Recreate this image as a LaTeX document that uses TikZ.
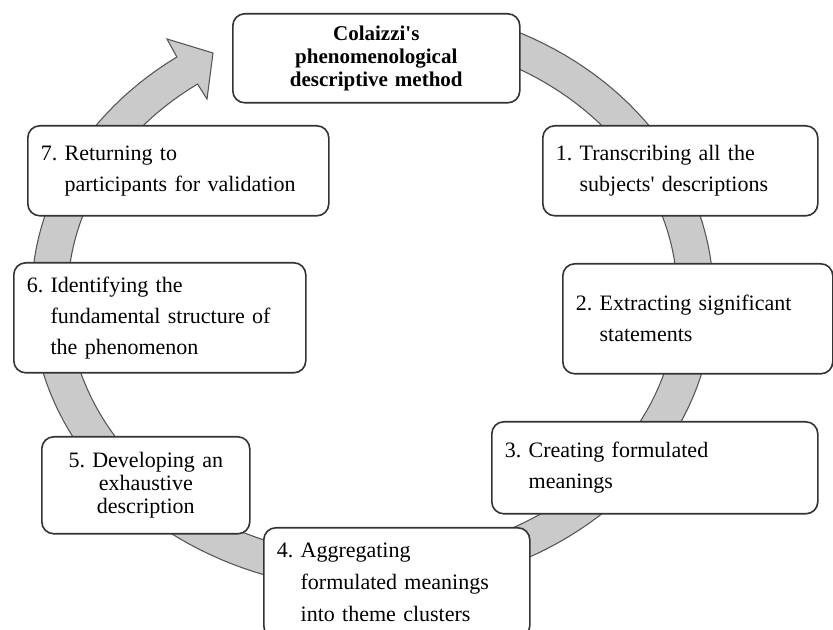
\documentclass[tikz,border=0pt]{standalone}
\usepackage{fontspec}
\setmainfont{Liberation Serif}
\frenchspacing
\definecolor{ringfill}{HTML}{CACACA}
\definecolor{ringline}{HTML}{555555}
\definecolor{boxline}{HTML}{333333}
\newcommand{\apos}{\textquotesingle}
\begin{document}
\begin{tikzpicture}[x=0.75pt,y=-0.75pt,
  stepbox/.style={draw=boxline, line width=1.2pt, fill=white, rounded corners=9pt,
    anchor=north west, inner xsep=9.75pt, inner ysep=0pt, align=left,
    font=\fontsize{16.5pt}{23.25pt}\selectfont},
  ringstyle/.style={fill=ringfill, draw=ringline, line width=0.8pt}]
\clip (0,0) rectangle (833,630);
\fill[white] (0,0) rectangle (833,630);

% circular arrow running clockwise round the steps
\filldraw[ringstyle]
  plot[variable=\t, domain=70:-235, samples=150] ({372.5+341*cos(\t)},{297-293*sin(\t)})
  -- (167,39) -- (213,53) -- (207,99)
  -- plot[variable=\t, domain=-235:70, samples=150] ({372.5+305*cos(\t)},{297-260*sin(\t)})
  -- cycle;

% title
\node[stepbox, align=center, text width=195.75pt, minimum height=66.75pt,
  font=\bfseries\fontsize{15.75pt}{17.25pt}\selectfont] (title) at (232,13)
  {Colaizzi\apos s\\phenomenological\\descriptive method};

% steps
\node[stepbox, text width=186.75pt, minimum height=67.5pt] (s1) at (542,125)
  {1. Transcribing all the\\\phantom{1.\ }subjects\apos\ descriptions};
\node[stepbox, text width=183pt, minimum height=82.5pt] (s2) at (562,263)
  {2. Extracting significant\\\phantom{2.\ }statements};
\node[stepbox, text width=225pt, minimum height=69pt] (s3) at (491,421)
  {3. Creating formulated\\\phantom{3.\ }meanings};
\node[stepbox, text width=180pt, minimum height=82.5pt,
  font=\fontsize{16.5pt}{24pt}\selectfont] (s4) at (263,527)
  {4. Aggregating\\\phantom{4.\ }formulated meanings\\\phantom{4.\ }into theme clusters};
\node[stepbox, align=center, text width=136.5pt, minimum height=72.75pt,
  font=\fontsize{16.5pt}{17.25pt}\selectfont] (s5) at (41,436)
  {5. Developing an\\exhaustive\\description};
\node[stepbox, text width=199.5pt, minimum height=82.5pt] (s6) at (13,262)
  {6. Identifying the\\\phantom{6.\ }fundamental structure of\\\phantom{6.\ }the phenomenon};
\node[stepbox, text width=206.25pt, minimum height=67.5pt] (s7) at (27,125)
  {7. Returning to\\\phantom{7.\ }participants for validation};
\end{tikzpicture}
\end{document}
